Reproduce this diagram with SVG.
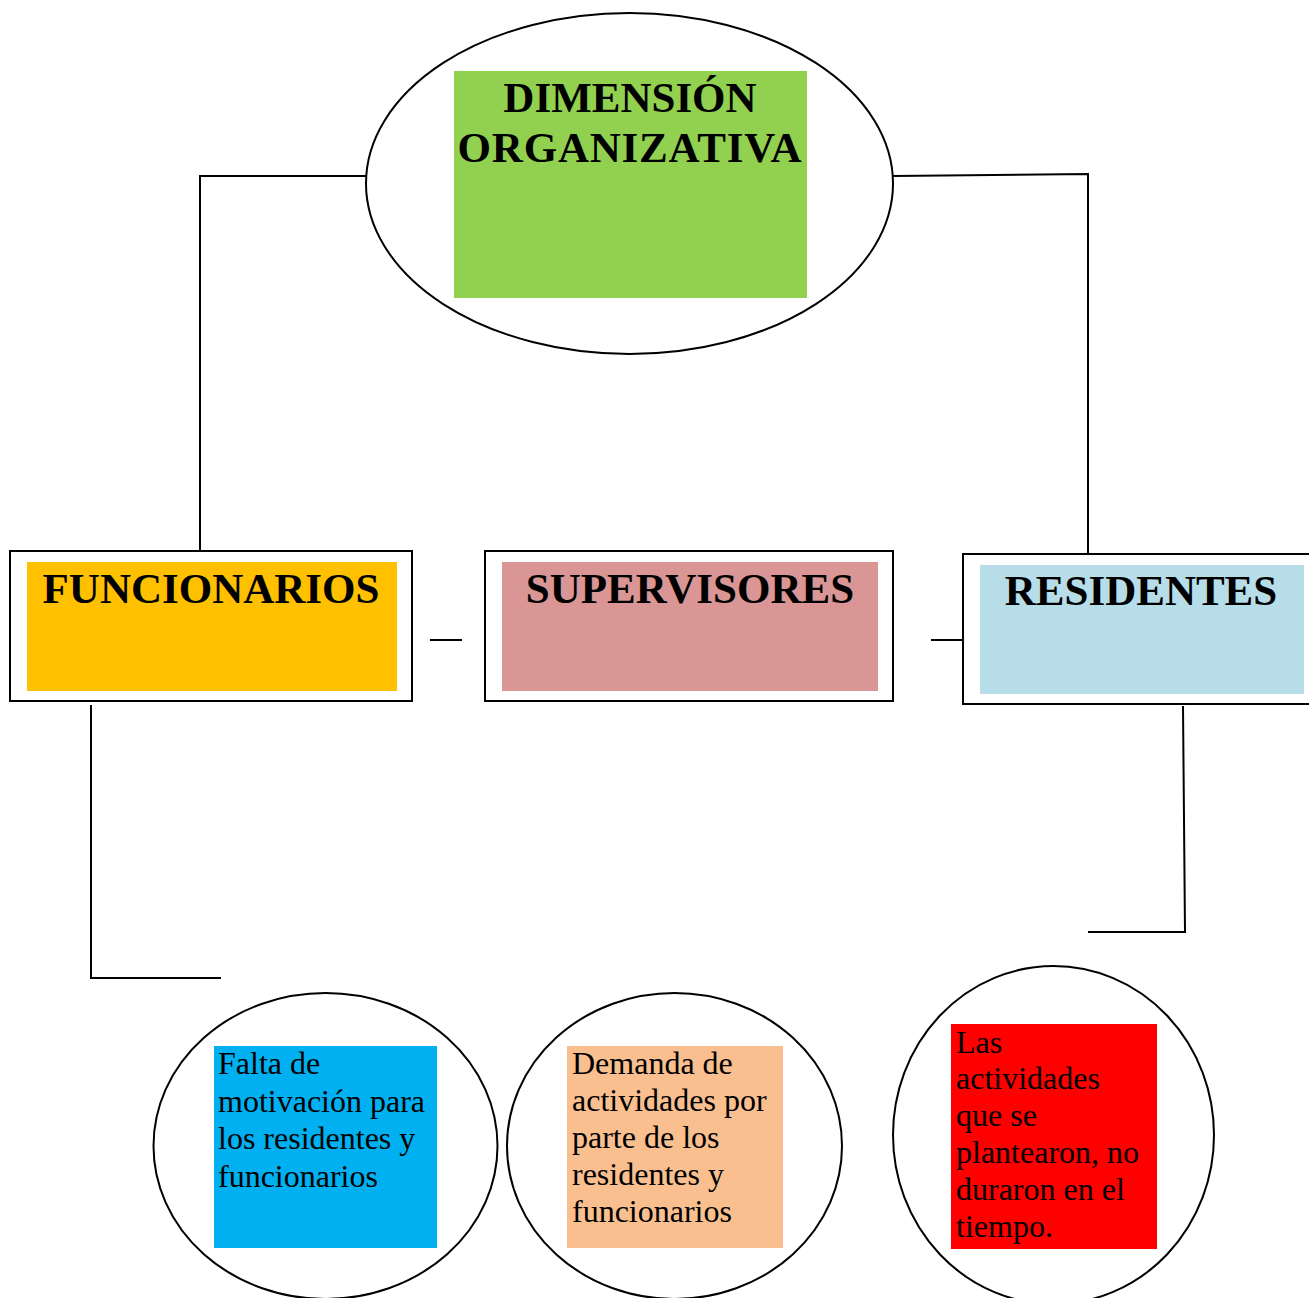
<svg xmlns="http://www.w3.org/2000/svg" width="1309" height="1298" viewBox="0 0 1309 1298">
<style>
.ln{stroke:#000;stroke-width:2;fill:none}
.shape{fill:#fff;stroke:#000;stroke-width:2}
.title{font-family:"Liberation Serif","Times New Roman",serif;font-weight:bold;font-size:43px;fill:#000;text-anchor:middle}
.body{font-family:"Liberation Serif","Times New Roman",serif;font-size:32px;fill:#000}
</style>
<rect width="1309" height="1298" fill="#fff"/>
<g id="connectors">
<polyline class="ln" points="366,176 200,176 200,551"/>
<polyline class="ln" points="893,176 1088,174 1088,554"/>
<line class="ln" x1="430" y1="640" x2="462" y2="640"/>
<line class="ln" x1="931" y1="640" x2="963" y2="640"/>
<polyline class="ln" points="91,705 91,978 221,978"/>
<polyline class="ln" points="1183,706 1185,932 1088,932"/>
</g>
<g id="dimension">
<ellipse class="shape" cx="629.5" cy="183.5" rx="263.5" ry="170.5"/>
<rect x="454" y="71" width="353" height="227" fill="#92D050"/>
<text class="title" x="630" y="112">DIMENSIÓN</text>
<text class="title" x="630" y="162" letter-spacing="0.8">ORGANIZATIVA</text>
</g>
<g id="funcionarios">
<rect class="shape" x="10" y="551" width="402" height="150"/>
<rect x="27" y="562" width="370" height="129" fill="#FFC000"/>
<text class="title" x="211" y="603">FUNCIONARIOS</text>
</g>
<g id="supervisores">
<rect class="shape" x="485" y="551" width="408" height="150"/>
<rect x="502" y="562" width="376" height="129" fill="#D99694"/>
<text class="title" x="690" y="603">SUPERVISORES</text>
</g>
<g id="residentes">
<rect class="shape" x="963" y="554" width="352" height="150"/>
<rect x="980" y="565" width="324" height="129" fill="#B7DDE8"/>
<text class="title" x="1141" y="605">RESIDENTES</text>
</g>
<g id="falta">
<ellipse class="shape" cx="325.5" cy="1146" rx="172" ry="153"/>
<rect x="214" y="1046" width="223" height="202" fill="#00B0F0"/>
<text class="body" x="218" y="1074">Falta de</text>
<text class="body" x="218" y="1112">motivación para</text>
<text class="body" x="218" y="1149">los residentes y</text>
<text class="body" x="218" y="1187">funcionarios</text>
</g>
<g id="demanda">
<ellipse class="shape" cx="674.5" cy="1146" rx="167.5" ry="153"/>
<rect x="567" y="1046" width="216" height="202" fill="#FABF8F"/>
<text class="body" x="572" y="1074">Demanda de</text>
<text class="body" x="572" y="1111">actividades por</text>
<text class="body" x="572" y="1148">parte de los</text>
<text class="body" x="572" y="1185">residentes y</text>
<text class="body" x="572" y="1222">funcionarios</text>
</g>
<g id="actividades">
<ellipse class="shape" cx="1053.5" cy="1135" rx="160.5" ry="169"/>
<rect x="951" y="1024" width="206" height="225" fill="#FF0000"/>
<text class="body" x="956" y="1053">Las</text>
<text class="body" x="956" y="1089">actividades</text>
<text class="body" x="956" y="1126">que se</text>
<text class="body" x="956" y="1163">plantearon, no</text>
<text class="body" x="956" y="1200">duraron en el</text>
<text class="body" x="956" y="1237">tiempo.</text>
</g>
</svg>
